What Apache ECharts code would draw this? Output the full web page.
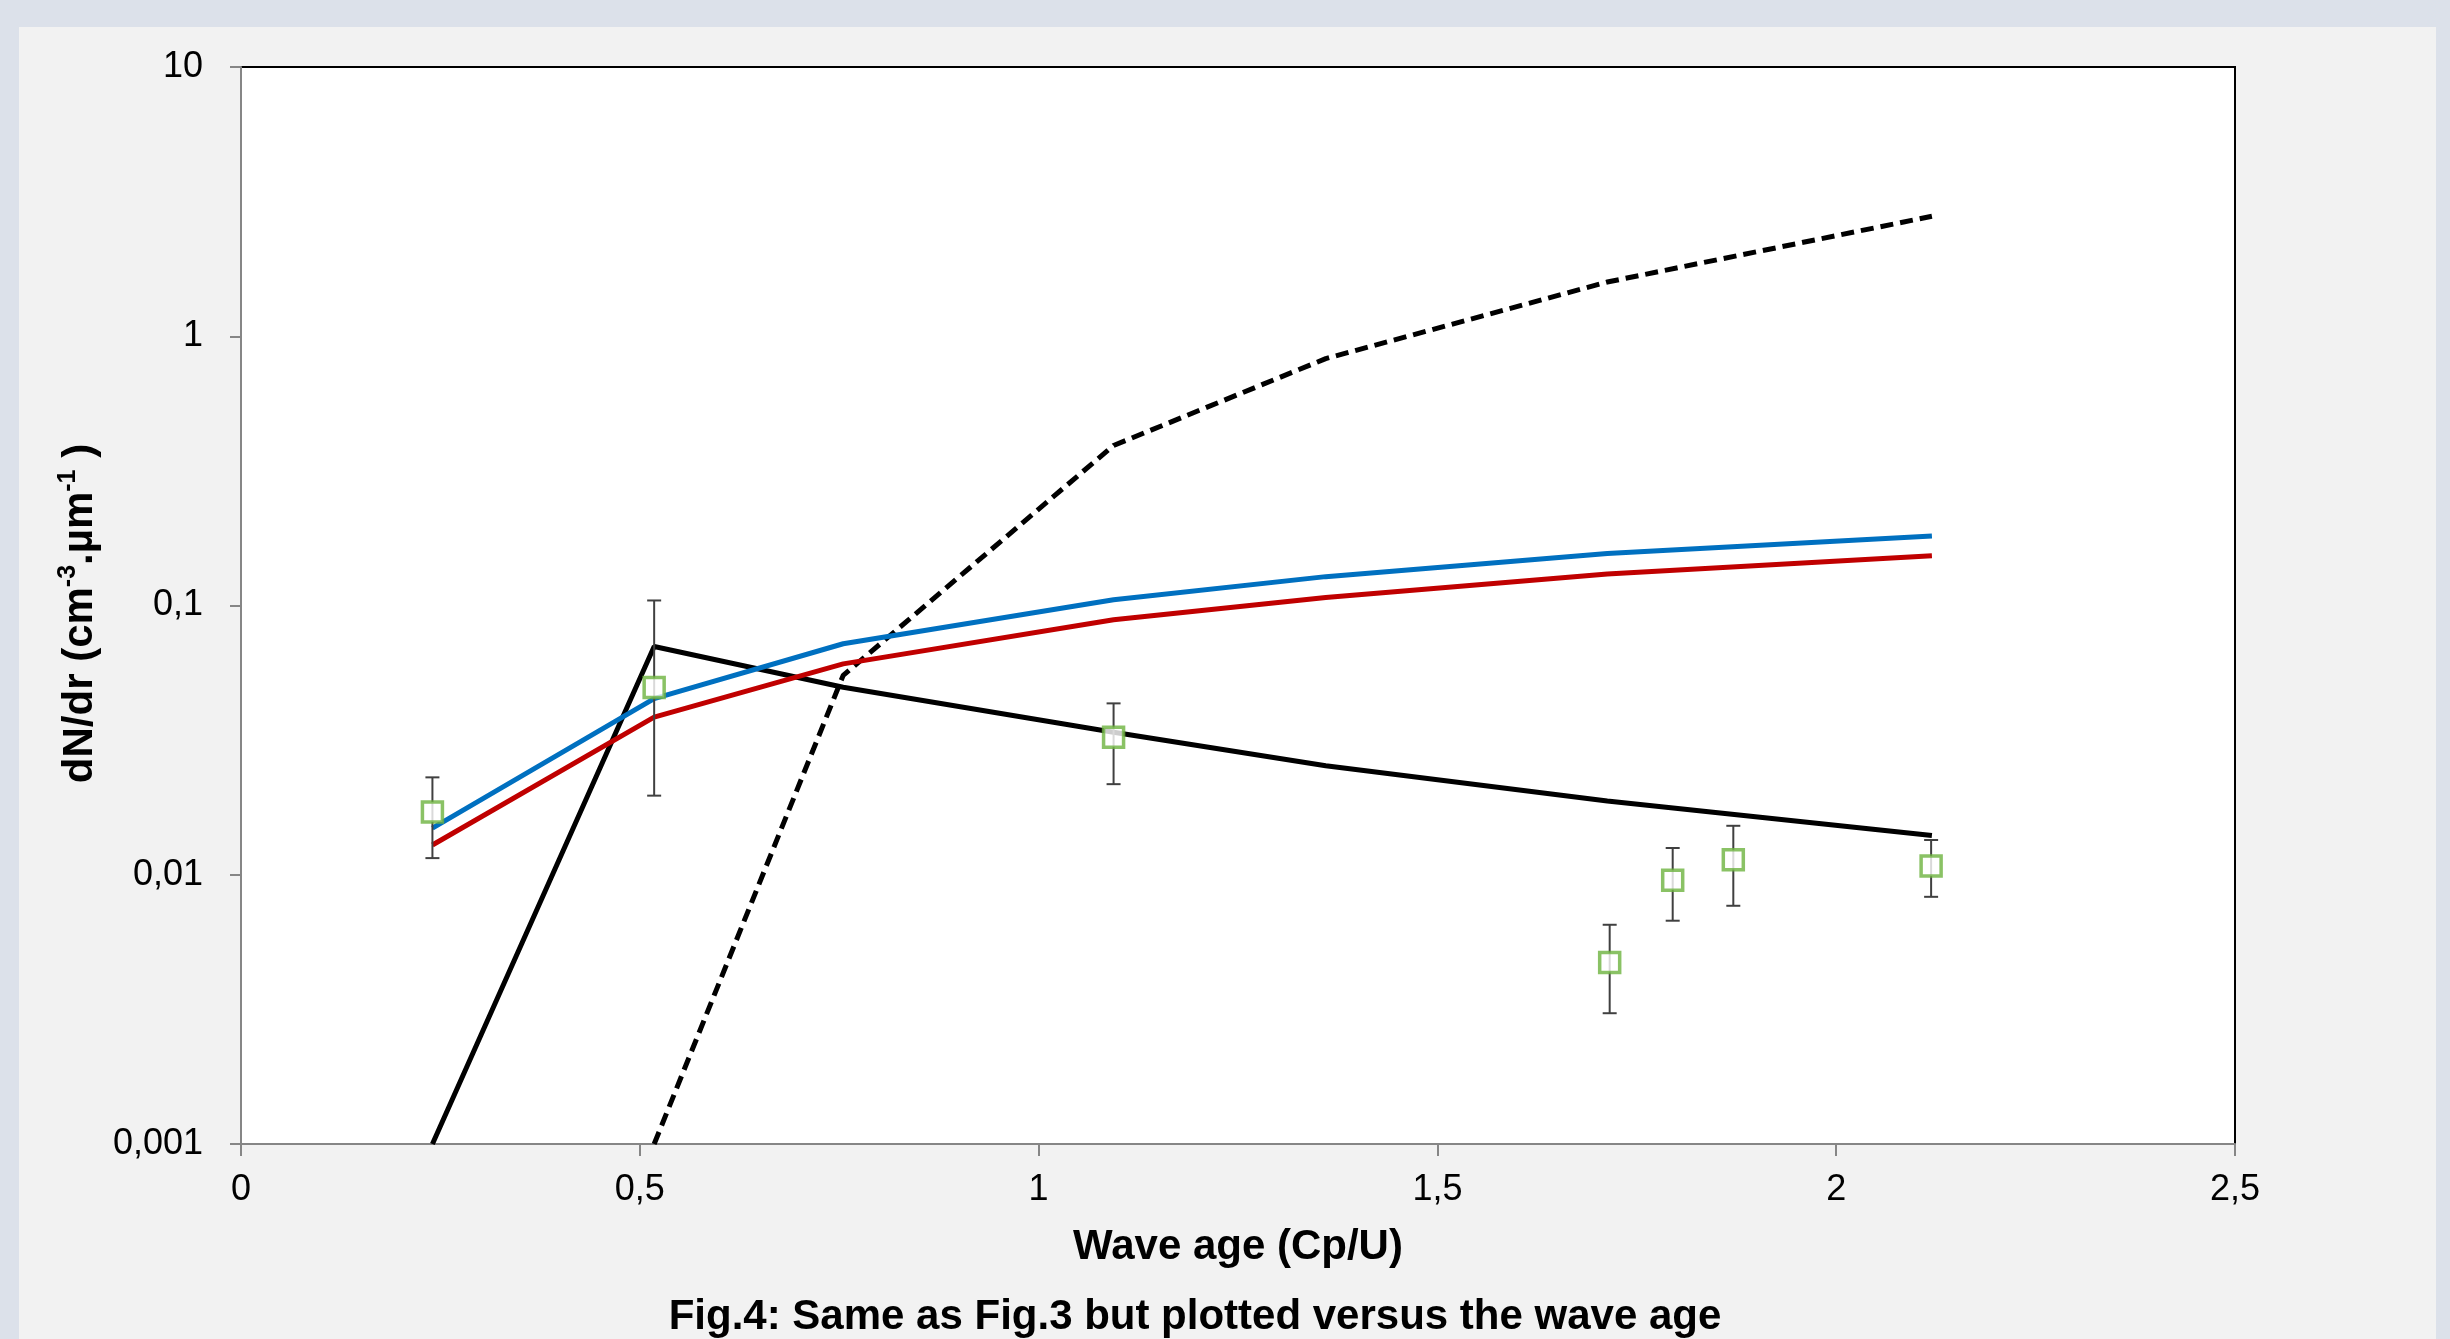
<!DOCTYPE html>
<html><head><meta charset="utf-8">
<script src="https://cdn.jsdelivr.net/npm/echarts@6/dist/echarts.min.js"></script>
<style>html,body{margin:0;padding:0;background:#dce1ea;}#c{width:2450px;height:1339px;}</style>
</head><body><div id="c"></div>
<script>
// ---- data ----
const modelX      = [0.24, 0.518, 0.755, 1.094, 1.36, 1.713, 2.12];
const blueModel   = [0.0149, 0.0451, 0.0721, 0.105, 0.128, 0.156, 0.181];
const redModel    = [0.0129, 0.0385, 0.0607, 0.0885, 0.107, 0.131, 0.153];
const blackModel  = [0.001, 0.0704, 0.0497, 0.0338, 0.0254, 0.0188, 0.0140];
const dashedX     = [0.518, 0.755, 1.094, 1.36, 1.713, 2.12];
const dashedModel = [0.001, 0.055, 0.393, 0.826, 1.59, 2.79];
const obsX        = [0.24, 0.518, 1.094, 1.716, 1.795, 1.871, 2.119];
const obsY        = [0.0171, 0.0496, 0.0324, 0.00472, 0.00955, 0.01137, 0.01077];
const obsLow      = [0.01153, 0.01967, 0.0217, 0.00306, 0.00675, 0.00767, 0.00828];
const obsHigh     = [0.0230, 0.1044, 0.0433, 0.00652, 0.01257, 0.0152, 0.01346];
const yTickLabels = ['0,001', '0,01', '0,1', '1', '10'];
const xTitle = 'Wave age (Cp/U)';
const caption = 'Fig.4: Same as Fig.3 but plotted versus the wave age';

const FONT = '"Liberation Sans", Arial, sans-serif';
const pairs = (xs, ys) => xs.map((x, i) => [x, ys[i]]);

const chart = echarts.init(document.getElementById('c'), null, {renderer: 'canvas'});
chart.setOption({
  backgroundColor: '#dce1ea',
  animation: false,
  textStyle: {fontFamily: FONT},
  graphic: [
    {type: 'rect', z: -100, shape: {x: 19, y: 27, width: 2417, height: 1400}, style: {fill: '#f2f2f2'}},
    {type: 'text', x: 1195, y: 1317, style: {text: caption, font: 'bold 42px ' + FONT, fill: '#000', textAlign: 'center', textVerticalAlign: 'middle'}}
  ],
  grid: {left: 241, right: 215, top: 67, bottom: 195, show: true, backgroundColor: '#ffffff', borderColor: '#000', borderWidth: 2, containLabel: false},
  xAxis: {
    type: 'value', min: 0, max: 2.5, interval: 0.5,
    name: xTitle, nameLocation: 'middle', nameGap: 82,
    nameTextStyle: {fontSize: 42, fontWeight: 'bold', color: '#000', fontFamily: FONT},
    axisLine: {show: true, lineStyle: {color: '#868686', width: 2}},
    axisTick: {show: true, length: 12, lineStyle: {color: '#868686', width: 2}},
    axisLabel: {fontSize: 36, color: '#000', margin: 28, fontFamily: FONT, formatter: v => String(v).replace('.', ',')},
    splitLine: {show: false}
  },
  yAxis: {
    type: 'log', logBase: 10, min: 0.001, max: 10,
    name: '{a|dN/dr (cm}{s|-3}{a|.µm}{s|-1}{a| )}', nameLocation: 'middle', nameGap: 137, nameRotate: 90,
    nameTextStyle: {
      color: '#000', padding: [0, 16, 0, 0],
      rich: {
        a: {fontSize: 42, fontWeight: 'bold', fontFamily: FONT, color: '#000', lineHeight: 48},
        s: {fontSize: 25, fontWeight: 'bold', fontFamily: FONT, color: '#000', verticalAlign: 'top', lineHeight: 48}
      }
    },
    axisLine: {show: true, lineStyle: {color: '#868686', width: 2}},
    axisTick: {show: true, length: 11, lineStyle: {color: '#868686', width: 2}},
    minorTick: {show: false},
    axisLabel: {fontSize: 36, color: '#000', margin: 38, fontFamily: FONT, padding: [4, 0, 0, 0],
      formatter: v => yTickLabels[Math.round(Math.log10(v)) + 3]},
    splitLine: {show: false}
  },
  series: [
    {type: 'line', name: 'dashed', data: pairs(dashedX, dashedModel), symbol: 'none', z: 2,
      lineStyle: {color: '#000', width: 5, type: [13, 7]}},
    {type: 'line', name: 'black', data: pairs(modelX, blackModel), symbol: 'none', z: 2,
      lineStyle: {color: '#000', width: 5}},
    {type: 'line', name: 'red', data: pairs(modelX, redModel), symbol: 'none', z: 3,
      lineStyle: {color: '#c00000', width: 5}},
    {type: 'line', name: 'blue', data: pairs(modelX, blueModel), symbol: 'none', z: 3,
      lineStyle: {color: '#0070c0', width: 5}},
    {type: 'custom', name: 'err', z: 4,
      data: obsX.map((x, i) => [x, obsLow[i], obsHigh[i]]),
      encode: {x: 0, y: [1, 2]},
      renderItem: (params, api) => {
        const x = api.value(0);
        const lo = api.coord([x, api.value(1)]);
        const hi = api.coord([x, api.value(2)]);
        const w = 7;
        const st = {stroke: '#404040', lineWidth: 2};
        return {type: 'group', children: [
          {type: 'line', shape: {x1: lo[0], y1: lo[1], x2: hi[0], y2: hi[1]}, style: st},
          {type: 'line', shape: {x1: lo[0] - w, y1: lo[1], x2: lo[0] + w, y2: lo[1]}, style: st},
          {type: 'line', shape: {x1: hi[0] - w, y1: hi[1], x2: hi[0] + w, y2: hi[1]}, style: st}
        ]};
      }},
    {type: 'scatter', name: 'obs', data: pairs(obsX, obsY), symbol: 'rect', symbolSize: 20, z: 5,
      itemStyle: {color: '#ffffff', borderColor: '#6db33f', borderWidth: 3.5}}
  ]
});
</script></body></html>
